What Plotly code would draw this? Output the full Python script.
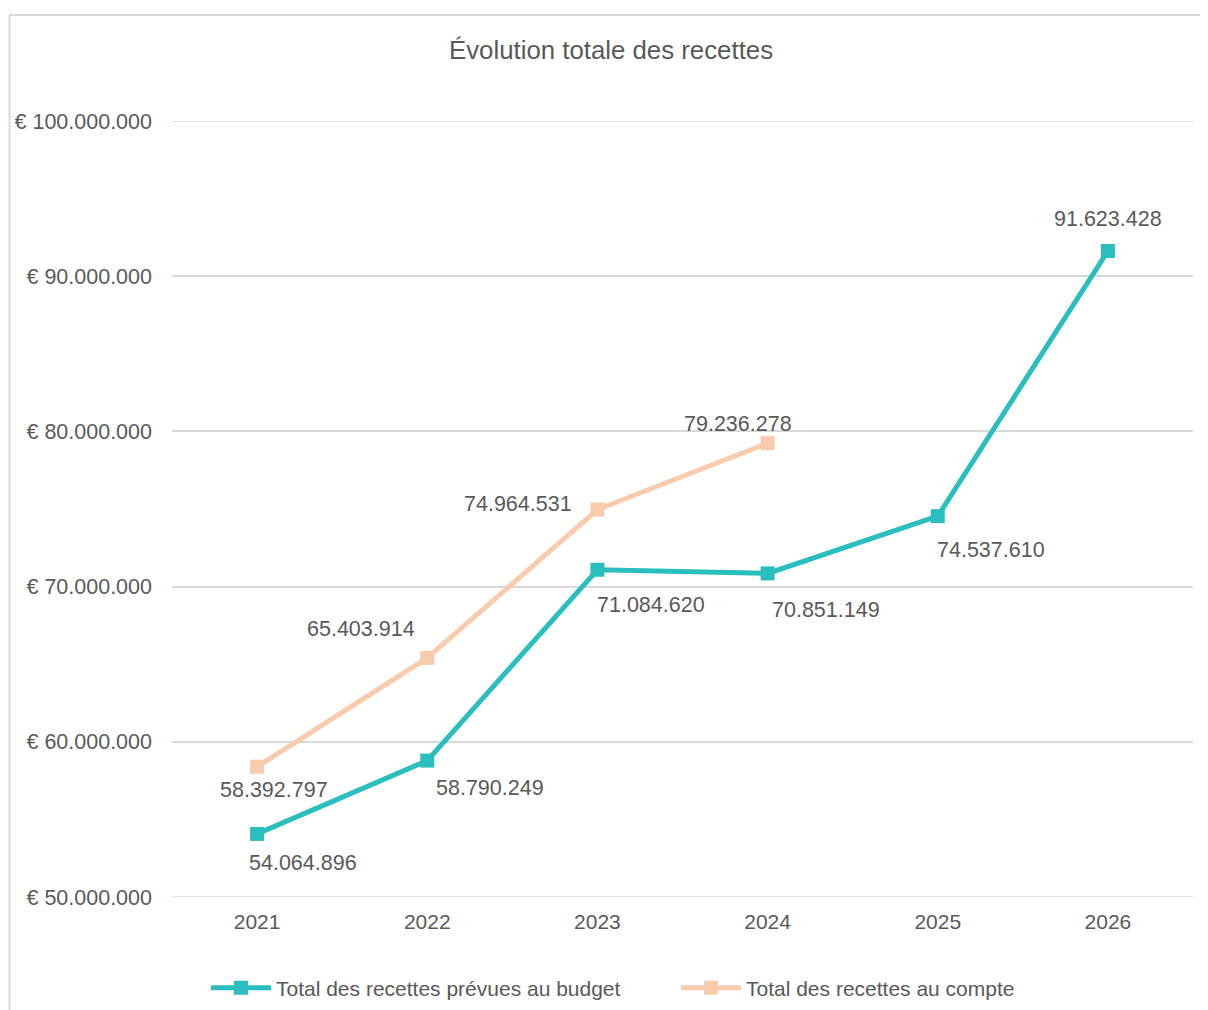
import plotly.graph_objects as go

years = ["2021", "2022", "2023", "2024", "2025", "2026"]
budget = [54064896, 58790249, 71084620, 70851149, 74537610, 91623428]
compte_years = ["2021", "2022", "2023", "2024"]
compte = [58392797, 65403914, 74964531, 79236278]
y_ticks = [50000000, 60000000, 70000000, 80000000, 90000000, 100000000]

TEAL = "#2BBEBE"
PEACH = "#F8CBAD"
GREY = "#595959"
GRID = "#D9D9D9"
FONT = "Liberation Sans, Arial, sans-serif"

W, H = 1200, 1002   # page body has an 8px margin
OFF = 8


def fmt(v):
    return f"{v:,}".replace(",", ".")


fig = go.Figure()
fig.add_trace(go.Scatter(
    x=years, y=budget, mode="lines+markers", name="Total des recettes prévues au budget",
    line=dict(color=TEAL, width=5), marker=dict(symbol="square", size=14, color=TEAL),
))
fig.add_trace(go.Scatter(
    x=compte_years, y=compte, mode="lines+markers", name="Total des recettes au compte",
    line=dict(color=PEACH, width=5), marker=dict(symbol="square", size=14, color=PEACH),
))

# label placement (anchor, xshift, yshift)
budget_pos = [("left", -10, -29), ("left", 7, -27), ("left", -2, -35),
              ("left", 2, -37), ("left", -3, -34), ("center", 0, 32)]
compte_pos = [("center", 17, -23), ("right", -10, 29), ("right", -23, 6), ("center", -30, 19)]

for xs, ys, pos in [(years, budget, budget_pos), (compte_years, compte, compte_pos)]:
    for xv, yv, (anc, dx, dy) in zip(xs, ys, pos):
        fig.add_annotation(
            x=years.index(xv), y=yv, xref="x", yref="y", text=fmt(yv), showarrow=False,
            xanchor=anc, yanchor="middle", xshift=dx, yshift=dy,
            font=dict(family=FONT, size=21.5, color=GREY),
        )

# gridlines at the range edges (plotly omits them)
for v in (y_ticks[0], y_ticks[-1]):
    fig.add_shape(type="line", xref="paper", yref="y", x0=0, x1=1, y0=v, y1=v,
                  line=dict(color=GRID, width=1.5), layer="below")

fig.update_layout(
    width=W, height=H,
    margin=dict(l=172 - OFF, r=15, t=121 - OFF, b=113, pad=0, autoexpand=False),
    paper_bgcolor="white", plot_bgcolor="white",
    font=dict(family=FONT, size=21, color=GREY),
    title=dict(text="Évolution totale des recettes", x=(611 - OFF) / W, xref="container", xanchor="center",
               y=1 - (50 - OFF) / H, yref="container", yanchor="middle",
               font=dict(family=FONT, size=25.8, color=GREY)),
    xaxis=dict(type="category", showgrid=False, showline=False, zeroline=False, ticks="",
               tickfont=dict(size=21, color=GREY), range=[-0.5, 5.5], ticklabelstandoff=10,
               automargin=False),
    yaxis=dict(range=[50000000, 100000000], tickmode="array", tickvals=y_ticks,
               ticktext=["€ " + fmt(v) for v in y_ticks],
               showgrid=True, gridcolor=GRID, gridwidth=1.5, zeroline=False, showline=False, ticks="",
               tickfont=dict(size=21.5, color=GREY), ticklabelstandoff=19, automargin=False),
    legend=dict(orientation="h", xref="container", yref="container", x=(206 - OFF) / W, xanchor="left",
                y=(1010 - 988) / H, yanchor="middle", font=dict(size=21, color=GREY),
                entrywidth=395, entrywidthmode="pixels", itemwidth=60),
    shapes=list(fig.layout.shapes) + [
        dict(type="rect", xref="paper", yref="paper", x0=(9.5 - 172) / 1021, x1=1.05,
             y0=-0.2, y1=(897 - 15) / 776, line=dict(color=GRID, width=2), layer="below")],
    showlegend=True,
)

fig.write_html("out.html")
